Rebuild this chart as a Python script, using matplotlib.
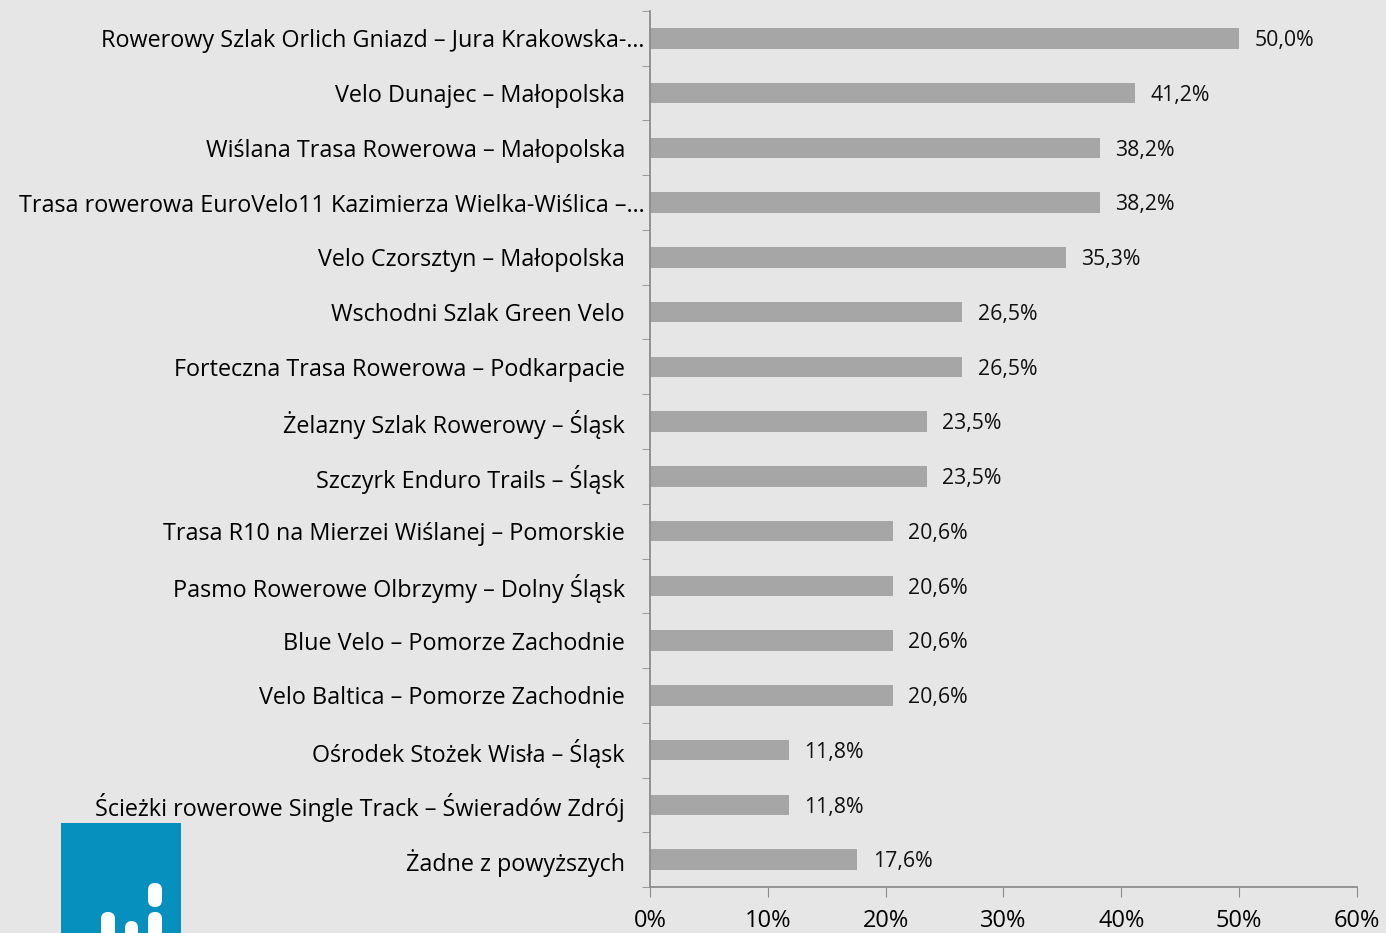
import numpy as np
import matplotlib.pyplot as plt
from matplotlib.patches import Rectangle, FancyBboxPatch

categories = [
    'Rowerowy Szlak Orlich Gniazd – Jura Krakowska-…',
    'Velo Dunajec – Małopolska',
    'Wiślana Trasa Rowerowa – Małopolska',
    'Trasa rowerowa EuroVelo11 Kazimierza Wielka-Wiślica –…',
    'Velo Czorsztyn – Małopolska',
    'Wschodni Szlak Green Velo',
    'Forteczna Trasa Rowerowa – Podkarpacie',
    'Żelazny Szlak Rowerowy – Śląsk',
    'Szczyrk Enduro Trails – Śląsk',
    'Trasa R10 na Mierzei Wiślanej – Pomorskie',
    'Pasmo Rowerowe Olbrzymy – Dolny Śląsk',
    'Blue Velo – Pomorze Zachodnie',
    'Velo Baltica – Pomorze Zachodnie',
    'Ośrodek Stożek Wisła – Śląsk',
    'Ścieżki rowerowe Single Track – Świeradów Zdrój',
    'Żadne z powyższych',
]
values = [50.0, 41.2, 38.2, 38.2, 35.3, 26.5, 26.5, 23.5, 23.5, 20.6, 20.6, 20.6, 20.6, 11.8, 11.8, 17.6]
xticks = [0, 10, 20, 30, 40, 50, 60]

bg = '#e6e6e6'
spine = '#8c8c8c'
plt.rcParams['font.family'] = ['Open Sans', 'DejaVu Sans']

fig = plt.figure(figsize=(13.86, 9.33), dpi=100, facecolor=bg)
ax = fig.add_axes([650 / 1386, 1 - 887 / 933, 707 / 1386, 876 / 933])
ax.set_facecolor(bg)

y = np.arange(len(categories))
ax.barh(y, values, height=0.37, color='#a6a6a6')
for yi, v in zip(y, values):
    ax.text(v + 1.3, yi + 0.04, f'{v:.1f}%'.replace('.', ','), va='center', ha='left',
            fontsize=15.3, color='#111111')

ax.set_xlim(0, 60)
ax.set_ylim(len(categories) - 0.5, -0.5)
ax.set_xticks(xticks)
ax.set_xticklabels([f'{t}%' for t in xticks], fontsize=17)
ax.tick_params(axis='x', length=7, color=spine, pad=9)

ax.set_yticks(y)
ax.set_yticklabels(categories, fontsize=16.8)
ax.set_yticks(np.arange(len(categories) + 1) - 0.5, minor=True)
ax.tick_params(axis='y', which='major', length=0, pad=18)
ax.tick_params(axis='y', which='minor', length=6, color=spine)
for i, lab in enumerate(ax.get_yticklabels()):
    if categories[i].endswith('…'):
        ax.yaxis.get_major_ticks()[i].set_pad(4)

for s in ['top', 'right']:
    ax.spines[s].set_visible(False)
for s in ['left', 'bottom']:
    ax.spines[s].set_color(spine)
    ax.spines[s].set_linewidth(1.3)

# logo
W, H = 1386, 933
fig.patches.append(Rectangle((61 / W, 0), 120 / W, 110 / H, transform=fig.transFigure,
                             facecolor='#0590bd', edgecolor='none'))
pills = [(101, 912, 14, 40), (125, 921, 13, 40), (148, 883, 14, 24), (148, 912, 14, 40)]
for px, py, pw, ph in pills:
    fig.patches.append(FancyBboxPatch((px / W, 1 - (py + ph) / H), pw / W, ph / H,
                                      boxstyle='round,pad=0,rounding_size=0.005',
                                      transform=fig.transFigure,
                                      facecolor='white', edgecolor='none', mutation_aspect=W / H))

fig.savefig('out.png', dpi=100, facecolor=bg)
